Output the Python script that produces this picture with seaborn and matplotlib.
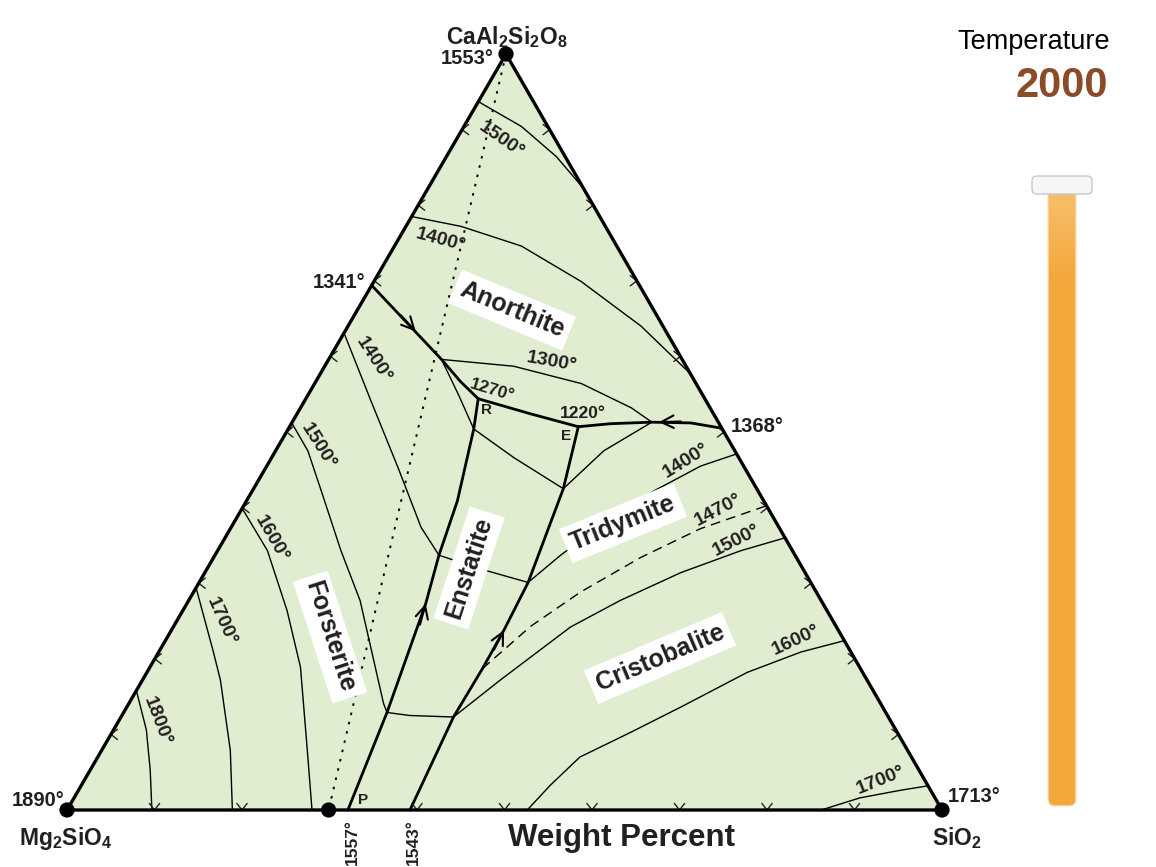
import numpy as np
import matplotlib.pyplot as plt
import seaborn as sns
from matplotlib.patches import Polygon, FancyBboxPatch
from matplotlib.colors import LinearSegmentedColormap

# points are (wt% SiO2, wt% CaAl2Si2O8), the rest is Mg2SiO4

# boundary curves (thick)
bnd_fo_an = [(0.0, 69.4), (12.9, 59.6), (16.5, 56.7), (19.7, 54.4)]
bnd_an_en = [(19.7, 54.4), (26.7, 52.4), (33.0, 50.7)]
bnd_an_tr = [(33.0, 50.7), (36.5, 51.1), (41.1, 51.3), (45.6, 51.2), (49.5, 50.5)]
bnd_fo_en = [(19.7, 54.4), (21.2, 50.4), (24.1, 40.9), (25.6, 33.7), (27.3, 27.3), (30.1, 12.9), (32.1, 0.0)]
bnd_en_si = [(33.0, 50.7), (35.4, 42.5), (36.5, 36.3), (37.6, 30.1), (38.0, 23.8), (38.1, 18.7), (38.0, 12.3), (39.2, 0.0)]

# isotherms (thin)
iso1500_an = [(0.0, 93.7), (6.6, 90.4), (12.6, 86.4), (17.8, 82.2)]
iso1400_an = [(0.0, 78.5), (6.3, 77.2), (14.5, 74.6), (23.7, 69.9), (33.5, 64.0), (42.3, 57.7)]
iso1300_an = [(12.9, 59.6), (21.6, 58.7), (30.5, 56.4), (37.8, 53.2), (41.1, 51.3)]
iso1300_fo = [(12.9, 59.6), (17.3, 54.8), (21.2, 50.4)]
iso1300_en = [(21.2, 50.4), (27.7, 46.6), (35.4, 42.5)]
iso1300_tr = [(35.4, 42.5), (37.5, 47.5), (41.1, 51.3)]
iso1400_fo = [(0.0, 63.1), (7.6, 54.1), (15.1, 45.3), (21.7, 37.4), (25.6, 33.7)]
iso1400_en = [(25.6, 33.7), (31.2, 31.9), (37.6, 30.1)]
iso1400_tr = [(37.6, 30.1), (39.5, 33.7), (42.1, 37.6), (45.9, 42.2), (49.6, 45.5), (52.9, 47.1)]
iso1500_fo = [(0.0, 51.2), (3.7, 47.5), (8.6, 41.3), (14.1, 34.3), (19.6, 27.7), (29.1, 14.1), (30.1, 12.9)]
iso1500_en = [(30.1, 12.9), (32.9, 12.5), (38.0, 12.3)]
iso1500_cr = [(38.0, 12.3), (40.9, 17.2), (45.4, 24.2), (49.3, 27.7), (54.4, 31.4), (59.8, 34.3), (64.0, 36.0)]
iso1470_tr = [(38.1, 18.7), (40.8, 24.3), (44.2, 28.8), (48.8, 33.4), (53.7, 37.2), (59.75, 40.25)]
iso1600_fo = [(0.0, 39.9), (5.7, 34.3), (11.9, 26.4), (17.2, 18.9), (23.5, 7.9), (28.0, 0.0)]
iso1600_cr = [(52.6, 0.0), (53.6, 3.3), (55.1, 7.0), (59.3, 10.3), (63.3, 13.6), (68.6, 18.2), (73.4, 20.9), (77.6, 22.4)]
iso1700_fo = [(0.0, 29.4), (6.1, 21.1), (8.9, 17.2), (14.7, 7.9), (18.9, 0.0)]
iso1700_cr = [(86.2, 0.0), (89.8, 1.6), (93.9, 2.6), (96.8, 3.2)]
iso1800_fo = [(0.0, 15.8), (3.75, 10.6), (6.85, 5.3), (9.7, 0.0)]

an_en_join = [(0.0, 100.0), (29.9, 0.0)]
dots = [(0.0, 0.0), (100.0, 0.0), (0.0, 100.0), (29.9, 0.0)]

# flow arrows on boundaries: (tip, point it heads to)
flow = [((8.1, 63.3), (12.9, 59.6)),
        ((41.9, 51.3), (36.5, 51.1)),
        ((27.3, 27.3), (25.6, 33.7)),
        ((38.0, 23.8), (37.6, 30.1))]

left_ticks = [10, 20, 30, 40, 50, 60, 70, 80, 90]
right_ticks = [10, 20, 30, 40, 50, 60, 70, 80, 90]
bottom_ticks = [10, 20, 40, 50, 60, 70, 80, 90]

temperature = 2000

INK = '#231F20'

sns.set_style('white')
plt.rcParams['font.family'] = ['Liberation Sans', 'DejaVu Sans']
plt.rcParams['mathtext.fontset'] = 'custom'
plt.rcParams['mathtext.rm'] = 'Liberation Sans:bold'
plt.rcParams['mathtext.bf'] = 'Liberation Sans:bold'

APEX = 439 / 875
H = 756 / 875


def tern(pts):
    s = np.array([p[0] for p in pts]) / 100
    a = np.array([p[1] for p in pts]) / 100
    return s + a * APEX, a * H


fig = plt.figure(figsize=(11.56, 8.67), dpi=100)
ax = fig.add_axes([0, 0, 1, 1])
ax.set_xlim(-67 / 875, 1089 / 875)
ax.set_ylim(-57 / 875, 810 / 875)
ax.axis('off')

tx, ty = tern([(0, 0), (100, 0), (0, 100)])
ax.add_patch(Polygon(np.c_[tx, ty], closed=True, fc='#E0EDD0', ec='none', zorder=0))


def curve(pts, lw, **kw):
    x, y = tern(pts)
    sns.lineplot(x=x, y=y, sort=False, estimator=None, color='black',
                 linewidth=lw, ax=ax, legend=False, zorder=3, **kw)


for c in [iso1500_an, iso1400_an, iso1300_an, iso1300_fo, iso1300_en, iso1300_tr,
          iso1400_fo, iso1400_en, iso1400_tr, iso1500_fo, iso1500_en, iso1500_cr,
          iso1600_fo, iso1600_cr, iso1700_fo, iso1700_cr, iso1800_fo]:
    curve(c, 1.0)
curve(iso1470_tr, 1.0, linestyle=(0, (7, 4.5)))
curve(an_en_join, 1.4, linestyle=(0, (1.3, 3.6)))

for c in [bnd_fo_an, bnd_an_en, bnd_an_tr, bnd_fo_en, bnd_en_si]:
    curve(c, 2.0)

for tip, toward in flow:
    (x0,), (y0,) = tern([tip])
    (x1,), (y1,) = tern([toward])
    d = np.hypot(x1 - x0, y1 - y0)
    tail = (x0 - (x1 - x0) / d * 0.025, y0 - (y1 - y0) / d * 0.025)
    ax.annotate('', xy=(x0, y0), xytext=tail, zorder=4,
                arrowprops=dict(arrowstyle='->,head_length=0.9,head_width=0.45',
                                lw=1.5, color='black', shrinkA=0, shrinkB=0))


def chevrons(pts, direction):
    L = 0.0095
    ang = np.deg2rad(38)
    dx, dy = direction
    for X, Y in zip(*tern(pts)):
        arms = []
        for sg in (1, -1):
            c, s = np.cos(sg * ang), np.sin(sg * ang)
            arms.append((X + L * (c * dx - s * dy), Y + L * (s * dx + c * dy)))
        ax.plot([arms[0][0], X, arms[1][0]], [arms[0][1], Y, arms[1][1]],
                color='#222222', lw=1.0, zorder=4)


chevrons([(0, a) for a in left_ticks], (1, 0))
chevrons([(100 - a, a) for a in right_ticks], (-1, 0))
chevrons([(s, 0) for s in bottom_ticks], (0, 1))

ax.plot(np.r_[tx, tx[0]], np.r_[ty, ty[0]], color='black', lw=2.4, zorder=5,
        solid_joinstyle='miter')
dx_, dy_ = tern(dots)
sns.scatterplot(x=dx_, y=dy_, s=120, color='black', edgecolor='none', ax=ax,
                zorder=6, legend=False)
ax.set_xlim(-67 / 875, 1089 / 875)
ax.set_ylim(-57 / 875, 810 / 875)

# overlay in pixel coordinates for text and slider
ov = fig.add_axes([0, 0, 1, 1])
ov.patch.set_alpha(0)


def lab(x, y, s, size=14, rot=0, box=False, color=INK, weight='bold'):
    kw = {}
    if box:
        kw['bbox'] = dict(boxstyle='square,pad=0.25', fc='white', ec='none')
    ov.text(x, y, s, fontsize=size, fontweight=weight, color=color, rotation=rot,
            ha='center', va='center', rotation_mode='anchor', zorder=10, **kw)


lab(507, 37, r'CaAl$_\mathbf{2}$Si$_\mathbf{2}$O$_\mathbf{8}$', 16.5)
lab(467, 59, '1553°', 14.5)
lab(339, 282, '1341°', 14.5)
lab(757, 426, '1368°', 14.5)
lab(38, 800, '1890°', 14.5)
lab(974, 796, '1713°', 14.5)
lab(66, 839, r'Mg$_\mathbf{2}$SiO$_\mathbf{4}$', 16.5)
lab(957, 838, r'SiO$_\mathbf{2}$', 16.5)
lab(622, 838, 'Weight Percent', 22.5)
lab(352, 842, '1557°', 12.5, 90)
lab(413, 842, '1543°', 12.5, 90)
lab(363, 800, 'P', 11)
lab(486, 410, 'R', 11)
lab(566, 436, 'E', 11)

# isotherm labels
lab(492, 390, '1270°', 12.5, -17)
lab(583, 413, '1220°', 12.5)
lab(552, 362, '1300°', 14, -10)
lab(441, 240, '1400°', 14, -15)
lab(501, 140, '1500°', 14, -35)
lab(373, 360, '1400°', 14, -57)
lab(318, 446, '1500°', 14, -58)
lab(271, 539, '1600°', 14, -60)
lab(221, 622, '1700°', 14, -66)
lab(157, 721, '1800°', 14, -69)
lab(686, 461, '1400°', 14, 32)
lab(718, 510, '1470°', 14, 28)
lab(736, 540, '1500°', 14, 27)
lab(796, 640, '1600°', 14, 25)
lab(881, 780, '1700°', 14, 22)

# phase fields
lab(512, 310, 'Anorthite', 18, -22.5, box=True)
lab(330, 637, 'Forsterite', 18, -72, box=True)
lab(469, 568, 'Enstatite', 18, 72, box=True)
lab(623, 523, 'Tridymite', 18, 22, box=True)
lab(660, 658, 'Cristobalite', 18, 23, box=True)

# temperature panel
lab(1034, 42, 'Temperature', 19.5, color='black', weight='normal')
lab(1062, 86, str(temperature), 30, color='#8B4A28')

ov.add_patch(FancyBboxPatch((1048, 186), 28, 620, boxstyle='round,pad=0,rounding_size=7',
                            fc='#F3A83B', ec='#F7E3C2', lw=1.0, zorder=2))
grad = LinearSegmentedColormap.from_list('g', ['#F7BF6C', '#F3A83B'])
ov.imshow(np.linspace(0, 1, 60).reshape(-1, 1), extent=(1049, 1075, 280, 192),
          cmap=grad, aspect='auto', zorder=3)
ov.add_patch(FancyBboxPatch((1032, 176), 60, 18, boxstyle='round,pad=0,rounding_size=5',
                            fc='#F6F6F6', ec='#C9C9C9', lw=1.0, zorder=4))
ov.set_xlim(0, 1156)
ov.set_ylim(867, 0)
ov.axis('off')

fig.savefig('out.png', dpi=100)
